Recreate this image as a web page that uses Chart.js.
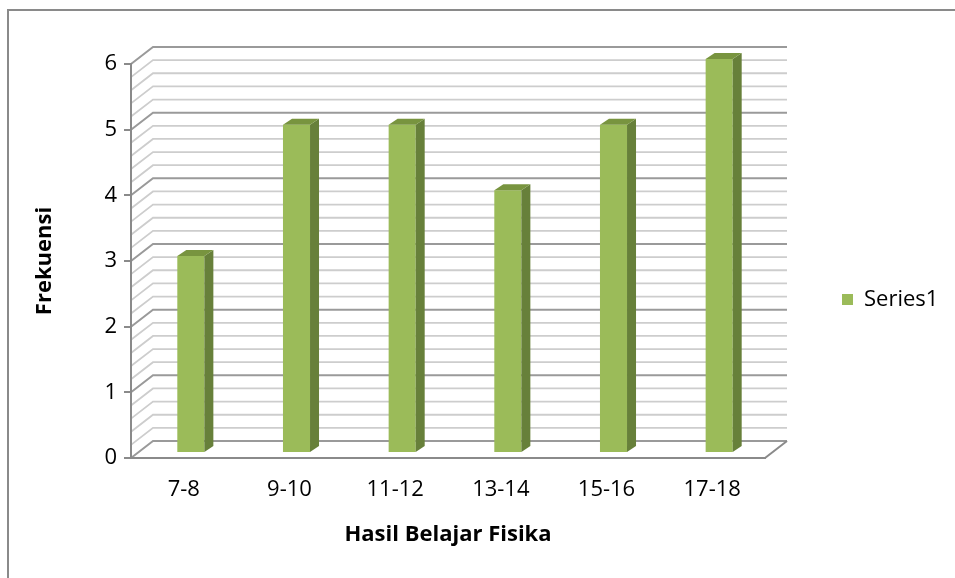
<!DOCTYPE html>
<html>
<head>
<meta charset="utf-8">
<script src="https://cdn.jsdelivr.net/npm/chart.js@4/dist/chart.umd.min.js"></script>
<style>
    html, body { margin: 0; padding: 0; background: #fff; overflow: hidden; }
    #wrap { position: relative; width: 955px; height: 578px; }
    #frame { position: absolute; left: 7px; top: 9px; width: 1200px; height: 900px; border: 2px solid #8a8a8a; }
    #legend { position: absolute; left: 842px; top: 282px; font-family: 'Open Sans', sans-serif; font-size: 22px; line-height: 30px; color: #000; white-space: nowrap; }
    #legend span.box { display: inline-block; width: 11px; height: 11px; background: #9bbb59; margin-right: 11px; vertical-align: middle; position: relative; top: -1px; }
</style>
</head>
<body>
<div id="wrap">
    <div id="frame"></div>
    <canvas id="chart" width="955" height="578"></canvas>
    <div id="legend"><span class="box"></span>Series1</div>
</div>
<script>
// chart data
var categories = ['7-8', '9-10', '11-12', '13-14', '15-16', '17-18'];
var series1 = [3, 5, 5, 4, 5, 6];
var yTicks = [0, 1, 2, 3, 4, 5, 6];

// 3d look: back wall offset, bar plane offset and bar depth
var wallShift = {dx: 22, dy: -17};
var barShift = {dx: 7, dy: -5};
var barDepth = {dx: 9, dy: -6};

// draws side wall, back wall grid and floor before the axes
var wall3d = {
    id: 'wall3d',
    beforeDraw: function(chart) {
        var ctx = chart.ctx, a = chart.chartArea, y = chart.scales.y;
        ctx.save();
        ctx.lineCap = 'butt';
        for (var i = 0; i <= 30; i++) {
            var v = i / 5;
            var py = y.getPixelForValue(v);
            var major = (i % 5 === 0);
            ctx.strokeStyle = major ? '#9a9a9a' : '#cdcdcd';
            ctx.lineWidth = major ? 2 : 1.8;
            ctx.beginPath();
            ctx.moveTo(a.left, py);
            ctx.lineTo(a.left + wallShift.dx, py + wallShift.dy);
            ctx.lineTo(a.right + wallShift.dx, py + wallShift.dy);
            ctx.stroke();
        }
        // right edge of the floor
        var base = y.getPixelForValue(0);
        ctx.strokeStyle = '#8a8a8a';
        ctx.lineWidth = 2;
        ctx.beginPath();
        ctx.moveTo(a.right, base);
        ctx.lineTo(a.right + wallShift.dx, base + wallShift.dy);
        ctx.stroke();
        ctx.restore();
    },
    beforeDatasetsDraw: function(chart) {
        chart.ctx.save();
        chart.ctx.translate(barShift.dx, barShift.dy);
    },
    afterDatasetsDraw: function(chart) {
        var ctx = chart.ctx;
        var meta = chart.getDatasetMeta(0);
        meta.data.forEach(function(bar) {
            var left = bar.x - bar.width / 2, right = bar.x + bar.width / 2;
            // side face
            ctx.fillStyle = '#67803a';
            ctx.beginPath();
            ctx.moveTo(right, bar.y);
            ctx.lineTo(right + barDepth.dx, bar.y + barDepth.dy);
            ctx.lineTo(right + barDepth.dx, bar.base + barDepth.dy);
            ctx.lineTo(right, bar.base);
            ctx.closePath();
            ctx.fill();
            // top face
            ctx.fillStyle = '#78943f';
            ctx.beginPath();
            ctx.moveTo(left, bar.y);
            ctx.lineTo(left + barDepth.dx, bar.y + barDepth.dy);
            ctx.lineTo(right + barDepth.dx, bar.y + barDepth.dy);
            ctx.lineTo(right, bar.y);
            ctx.closePath();
            ctx.fill();
        });
        ctx.restore();
    }
};

Chart.defaults.font.family = "'Open Sans', sans-serif";
Chart.defaults.color = '#000';

var ctx = document.getElementById('chart');
var myChart = new Chart(ctx, {
    type: 'bar',
    data: {
        labels: categories,
        datasets: [{
            label: 'Series1',
            data: series1,
            backgroundColor: '#9bbb59',
            borderWidth: 0,
            categoryPercentage: 1,
            barPercentage: 0.256
        }]
    },
    options: {
        responsive: false,
        animation: false,
        layout: { padding: { left: 8, top: 64, right: 190, bottom: 0 } },
        plugins: { legend: { display: false }, tooltip: { enabled: false } },
        scales: {
            x: {
                grid: { display: true, drawOnChartArea: false, drawTicks: false },
                border: { color: '#8a8a8a', width: 2 },
                ticks: { font: { size: 22 }, padding: 19 },
                title: { display: true, text: 'Hasil Belajar Fisika', font: { size: 22, weight: 'bold' }, padding: { top: 0, bottom: 30 } },
                afterFit: function(scale) { scale.height = 120; }
            },
            y: {
                min: 0,
                max: 6,
                afterBuildTicks: function(scale) {
                    scale.ticks = yTicks.map(function(v) { return {value: v}; });
                },
                grid: { display: true, drawOnChartArea: false, drawTicks: true, tickLength: 7, color: '#8a8a8a', lineWidth: 2 },
                border: { color: '#8a8a8a', width: 2 },
                ticks: { font: { size: 22 }, padding: 7 },
                title: { display: true, text: 'Frekuensi', font: { size: 22, weight: 'bold' }, padding: { top: 24, bottom: 0 } },
                afterFit: function(scale) { scale.width = 123; }
            }
        }
    },
    plugins: [wall3d]
});
</script>
</body>
</html>
